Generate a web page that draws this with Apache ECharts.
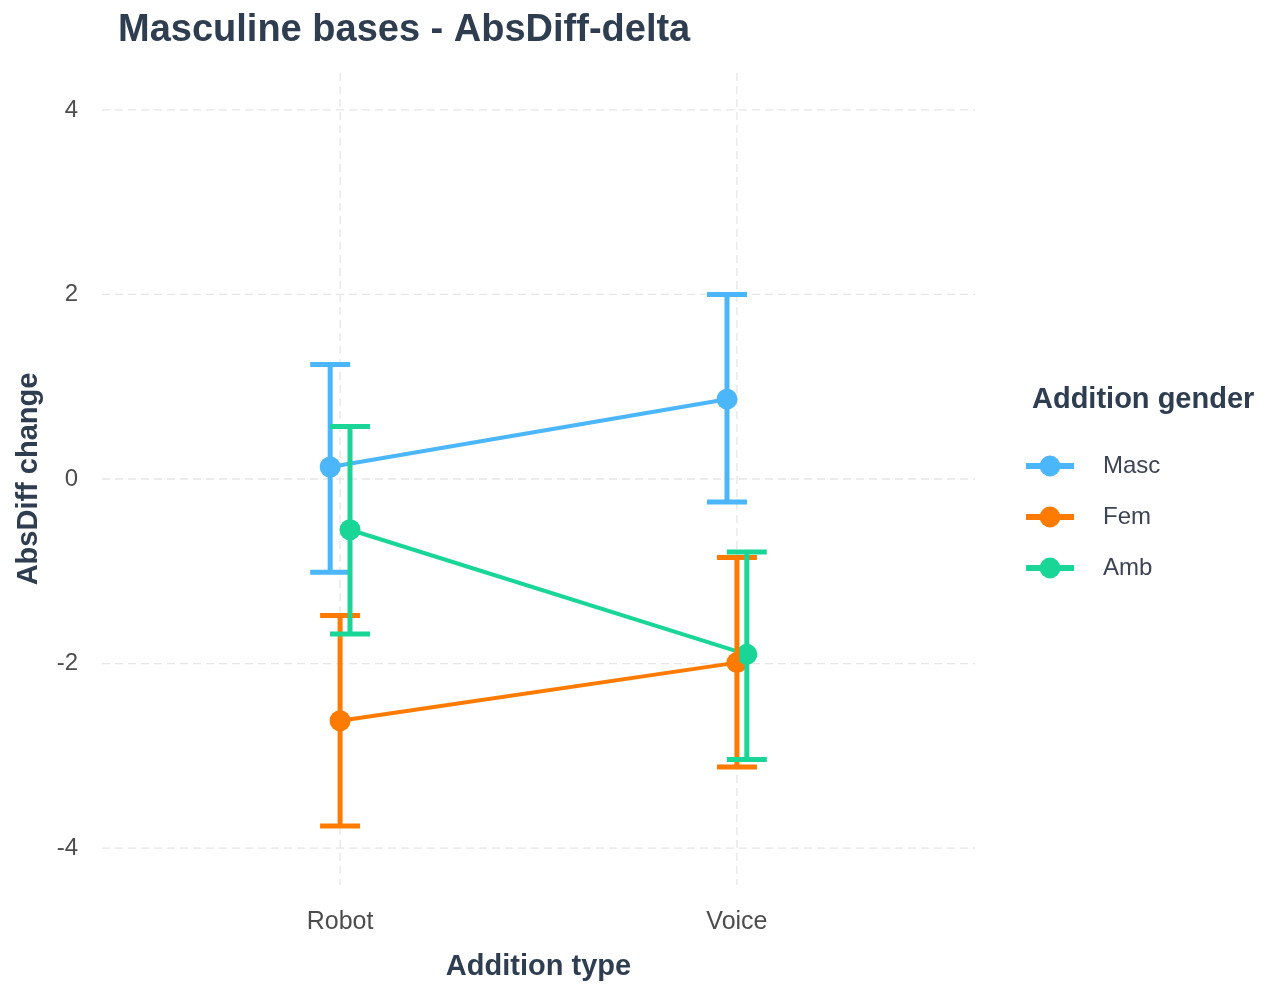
<!DOCTYPE html>
<html>
<head>
<meta charset="utf-8">
<title>Masculine bases - AbsDiff-delta</title>
<script src="https://cdn.jsdelivr.net/npm/echarts@6/dist/echarts.min.js"></script>
<style>
  html, body { margin: 0; padding: 0; background: #ffffff; }
  #chart { width: 1278px; height: 986px; }
</style>
</head>
<body>
<div id="chart"></div>
<script>
// Categories on the x axis and the groups drawn for each
const categories = ['Robot', 'Voice'];
const genders = ['Masc', 'Fem', 'Amb'];

// Mean change with lower / upper error bounds, one value per category
const meanMasc = [0.13, 0.865];
const lowMasc = [-1.01, -0.25];
const highMasc = [1.24, 2.0];

const meanFem = [-2.62, -1.99];
const lowFem = [-3.76, -3.12];
const highFem = [-1.48, -0.85];

const meanAmb = [-0.55, -1.90];
const lowAmb = [-1.68, -3.04];
const highAmb = [0.57, -0.79];

const yTicks = [-4, -2, 0, 2, 4];

const groupData = {
  Masc: { mean: meanMasc, low: lowMasc, high: highMasc },
  Fem: { mean: meanFem, low: lowFem, high: highFem },
  Amb: { mean: meanAmb, low: lowAmb, high: highAmb }
};

const colors = { Masc: '#4BB6F9', Fem: '#FF7B00', Amb: '#19D696' };
const dodge = { Masc: -0.025, Fem: 0, Amb: 0.025 };
const FONT = '"Liberation Sans", Arial, sans-serif';
const TITLE_COLOR = '#2F3D50';
const xPos = categories.map((c, i) => i + 1);

const chart = echarts.init(document.getElementById('chart'), null, { renderer: 'canvas' });

// Dashed panel grid lines
const gridStyle = { stroke: '#E6E6E6', lineWidth: 1.3, lineDash: [8, 5] };
const hGrid = {
  type: 'custom',
  silent: true,
  z: 0,
  data: yTicks.map(v => [v]),
  renderItem: function (params, api) {
    const cs = params.coordSys;
    const y = api.coord([1, api.value(0)])[1];
    return { type: 'line', shape: { x1: cs.x, y1: y, x2: cs.x + cs.width, y2: y }, style: gridStyle };
  }
};
const vGrid = {
  type: 'custom',
  silent: true,
  z: 0,
  data: xPos.map(v => [v]),
  renderItem: function (params, api) {
    const cs = params.coordSys;
    const x = api.coord([api.value(0), 0])[0];
    return { type: 'line', shape: { x1: x, y1: cs.y, x2: x, y2: cs.y + cs.height }, style: gridStyle };
  }
};

const lineSeries = genders.map(g => ({
  name: g,
  type: 'line',
  z: 2,
  data: groupData[g].mean.map((m, i) => [xPos[i] + dodge[g], m]),
  symbol: 'circle',
  symbolSize: 21,
  showSymbol: true,
  itemStyle: { color: colors[g] },
  lineStyle: { color: colors[g], width: 4 },
  emphasis: { disabled: true },
  animation: false
}));

const errSeries = genders.map(g => ({
  name: g,
  type: 'custom',
  z: 3,
  data: groupData[g].mean.map((m, i) => [xPos[i] + dodge[g], groupData[g].low[i], groupData[g].high[i]]),
  renderItem: function (params, api) {
    const lo = api.coord([api.value(0), api.value(1)]);
    const hi = api.coord([api.value(0), api.value(2)]);
    const half = 20;
    const style = { stroke: colors[g], lineWidth: 5, fill: null };
    return {
      type: 'group',
      children: [
        { type: 'line', shape: { x1: lo[0], y1: lo[1], x2: hi[0], y2: hi[1] }, style: style },
        { type: 'line', shape: { x1: hi[0] - half, y1: hi[1], x2: hi[0] + half, y2: hi[1] }, style: style },
        { type: 'line', shape: { x1: lo[0] - half, y1: lo[1], x2: lo[0] + half, y2: lo[1] }, style: style }
      ]
    };
  },
  animation: false
}));

chart.setOption({
  backgroundColor: '#ffffff',
  animation: false,
  title: [
    {
      text: 'Masculine bases - AbsDiff-delta',
      left: 113, top: 7,
      textStyle: { fontFamily: FONT, fontSize: 38, fontWeight: 'bold', color: TITLE_COLOR }
    },
    {
      text: 'Addition gender',
      left: 1027, top: 380,
      textStyle: { fontFamily: FONT, fontSize: 29, fontWeight: 'bold', color: TITLE_COLOR }
    }
  ],
  legend: {
    data: genders,
    orient: 'vertical',
    left: 1018, top: 448,
    itemWidth: 48, itemHeight: 26, itemGap: 25,
    lineStyle: { width: 6 },
    textStyle: { fontFamily: FONT, fontSize: 24, lineHeight: 26, color: '#3C4454', padding: [0, 0, 0, 24] },
    selectedMode: false
  },
  grid: { left: 102, right: 303, top: 73, bottom: 99, containLabel: false },
  xAxis: {
    type: 'value',
    min: 0.4, max: 2.6,
    name: 'Addition type',
    nameLocation: 'middle',
    nameGap: 67,
    nameTextStyle: { fontFamily: FONT, fontSize: 29, fontWeight: 'bold', color: TITLE_COLOR },
    axisLine: { show: false },
    axisTick: { show: false },
    splitLine: { show: false },
    axisLabel: {
      customValues: xPos,
      formatter: function (v) { return categories[Math.round(v) - 1] || ''; },
      fontFamily: FONT, fontSize: 25, color: '#4D4D4D', margin: 25
    }
  },
  yAxis: {
    type: 'value',
    min: -4.4, max: 4.4,
    name: 'AbsDiff change',
    nameLocation: 'middle',
    nameGap: 59,
    nameRotate: 90,
    nameTextStyle: { fontFamily: FONT, fontSize: 29, fontWeight: 'bold', color: TITLE_COLOR },
    axisLine: { show: false },
    axisTick: { show: false },
    splitLine: { show: false },
    axisLabel: {
      customValues: yTicks,
      formatter: function (v) { return String(v); },
      fontFamily: FONT, fontSize: 24, color: '#4D4D4D', margin: 24
    }
  },
  series: [hGrid, vGrid].concat(lineSeries, errSeries)
});
</script>
</body>
</html>
